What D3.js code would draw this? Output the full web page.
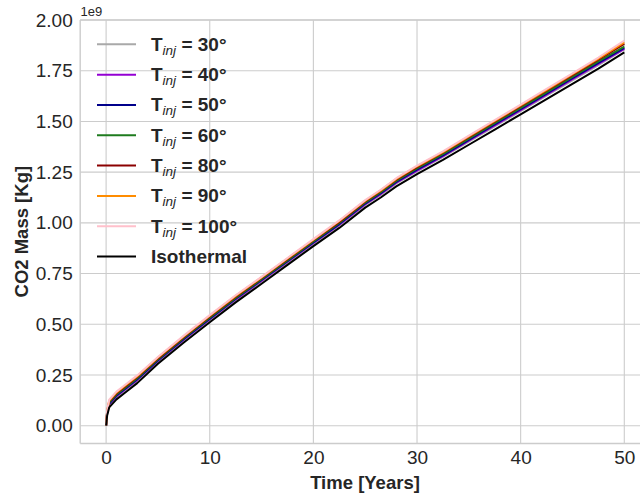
<!DOCTYPE html>
<html><head><meta charset="utf-8">
<script src="https://cdn.jsdelivr.net/npm/d3@7"></script>
<style>body{margin:0;background:#fff}svg{display:block}</style>
</head><body>
<svg id="chart" width="640" height="497"></svg>
<script>
// ---- data (values in units of 1e9 kg) ----
const time = [0,0.1,0.3,1,2,3,5,7.5,10,12.5,15,17.5,20,22.5,25,26.5,28,30,32.5,35,37.5,40,42.5,45,47.5,50];
const seriesNames = ["T30","T40","T50","T60","T80","T90","T100","Isothermal"];
const legendTemps = ["30°","40°","50°","60°","80°","90°","100°"];
const T30  = [0,0.060,0.102,0.142,0.182,0.222,0.316,0.421,0.521,0.619,0.711,0.804,0.897,0.987,1.088,1.138,1.194,1.254,1.325,1.400,1.476,1.551,1.627,1.702,1.778,1.856];
const T40  = [0,0.063,0.106,0.146,0.186,0.226,0.320,0.425,0.525,0.623,0.715,0.808,0.901,0.991,1.092,1.142,1.198,1.258,1.329,1.405,1.481,1.556,1.632,1.708,1.784,1.858];
const T50  = [0,0.065,0.109,0.149,0.189,0.229,0.323,0.428,0.528,0.626,0.718,0.811,0.904,0.994,1.095,1.146,1.202,1.262,1.333,1.409,1.485,1.561,1.637,1.713,1.789,1.862];
const T60  = [0,0.068,0.114,0.154,0.194,0.234,0.327,0.432,0.532,0.630,0.722,0.815,0.908,0.999,1.100,1.151,1.207,1.268,1.339,1.415,1.491,1.567,1.643,1.720,1.796,1.869];
const T80  = [0,0.072,0.120,0.160,0.200,0.240,0.332,0.437,0.538,0.636,0.728,0.821,0.914,1.005,1.106,1.157,1.213,1.275,1.346,1.422,1.499,1.575,1.652,1.728,1.805,1.882];
const T90  = [0,0.074,0.124,0.164,0.204,0.244,0.336,0.441,0.542,0.640,0.731,0.824,0.917,1.009,1.109,1.160,1.217,1.279,1.349,1.426,1.503,1.579,1.656,1.733,1.810,1.890];
const T100 = [0,0.076,0.128,0.168,0.208,0.248,0.339,0.444,0.545,0.643,0.734,0.827,0.920,1.012,1.112,1.163,1.220,1.282,1.352,1.430,1.506,1.583,1.660,1.737,1.815,1.898];
const ISO  = [0,0.050,0.090,0.130,0.170,0.210,0.305,0.410,0.510,0.608,0.700,0.793,0.885,0.975,1.075,1.125,1.180,1.240,1.310,1.385,1.460,1.535,1.610,1.685,1.760,1.840];
const xTicks = [0,10,20,30,40,50];
const yTicks = [0,0.25,0.5,0.75,1.0,1.25,1.5,1.75,2.0];
const colors = ["#a9a9a9","#9400d3","#00008b","#1e7b1e","#8b0000","#ff8c00","#ffc0cb","#000000"];

const allSeries = [T30,T40,T50,T60,T80,T90,T100,ISO];

const svg = d3.select("#chart");
const x = d3.scaleLinear().domain([-2.5,52.5]).range([80.2,650.2]);
const y = d3.scaleLinear().domain([-0.0877,2.0]).range([443.5,20]);

const font = "'Liberation Sans',Arial,sans-serif";
const txt = "#262626";

// grid
svg.append("g").selectAll("line").data(xTicks).join("line")
  .attr("x1",d=>x(d)).attr("x2",d=>x(d)).attr("y1",y.range()[0]).attr("y2",y.range()[1])
  .attr("stroke","#cccccc").attr("stroke-width",1.1);
svg.append("g").selectAll("line").data(yTicks).join("line")
  .attr("x1",x.range()[0]).attr("x2",x.range()[1]).attr("y1",d=>y(d)).attr("y2",d=>y(d))
  .attr("stroke","#cccccc").attr("stroke-width",1.1);
// spines
const sp = svg.append("g").attr("stroke","#cccccc").attr("stroke-width",1.4);
sp.append("line").attr("x1",x.range()[0]).attr("x2",x.range()[0]).attr("y1",y.range()[0]).attr("y2",y.range()[1]);
sp.append("line").attr("x1",x.range()[0]).attr("x2",x.range()[1]).attr("y1",y.range()[0]).attr("y2",y.range()[0]);
sp.append("line").attr("x1",x.range()[0]).attr("x2",x.range()[1]).attr("y1",y.range()[1]).attr("y2",y.range()[1]);

// axes with d3 (no tick lines)
const xAxis = svg.append("g").attr("transform",`translate(0,${y.range()[0]})`)
  .call(d3.axisBottom(x).tickValues(xTicks).tickSize(0).tickPadding(7.5).tickFormat(d3.format("d")));
xAxis.select(".domain").remove();
xAxis.selectAll("text").attr("font-family",font).attr("font-size",19).attr("fill",txt);

const yAxis = svg.append("g").attr("transform",`translate(${x.range()[0]},0)`)
  .call(d3.axisLeft(y).tickValues(yTicks).tickSize(0).tickPadding(7.5).tickFormat(d3.format(".2f")));
yAxis.select(".domain").remove();
yAxis.selectAll("text").attr("font-family",font).attr("font-size",19).attr("fill",txt);

svg.append("text").attr("x",80.5).attr("y",15.5).attr("font-family",font).attr("font-size",13)
  .attr("fill",txt).text("1e9");

// lines
const line = d3.line().x((d,i)=>x(time[i])).y(d=>y(d));
svg.append("g").selectAll("path").data(allSeries).join("path")
  .attr("d",d=>line(d)).attr("fill","none")
  .attr("stroke",(d,i)=>colors[i]).attr("stroke-width",2).attr("stroke-linejoin","round");

// labels
svg.append("text").attr("x",365).attr("y",489).attr("text-anchor","middle")
  .attr("font-family",font).attr("font-weight","bold").attr("font-size",18.5).attr("fill",txt)
  .text("Time [Years]");
svg.append("text").attr("transform","translate(28,231.7) rotate(-90)").attr("text-anchor","middle")
  .attr("font-family",font).attr("font-weight","bold").attr("font-size",18.5).attr("fill",txt)
  .text("CO2 Mass [Kg]");

// legend
const lg = svg.append("g");
const rowY = i => 44.3 + i*30.33;
seriesNames.forEach((n,i)=>{
  lg.append("line").attr("x1",97).attr("x2",136).attr("y1",rowY(i)).attr("y2",rowY(i))
    .attr("stroke",colors[i]).attr("stroke-width",2);
  const t = lg.append("text").attr("x",151).attr("y",rowY(i)+6.4)
    .attr("font-family",font).attr("font-weight","bold").attr("font-size",19).attr("fill",txt);
  if (i < legendTemps.length) {
    t.append("tspan").text("T");
    t.append("tspan").attr("font-style","italic").attr("font-weight","normal").attr("font-size",13.5).attr("dy",4).text("inj");
    t.append("tspan").attr("dy",-4).text(" = " + legendTemps[i]);
  } else {
    t.text("Isothermal");
  }
});
</script>
</body></html>
